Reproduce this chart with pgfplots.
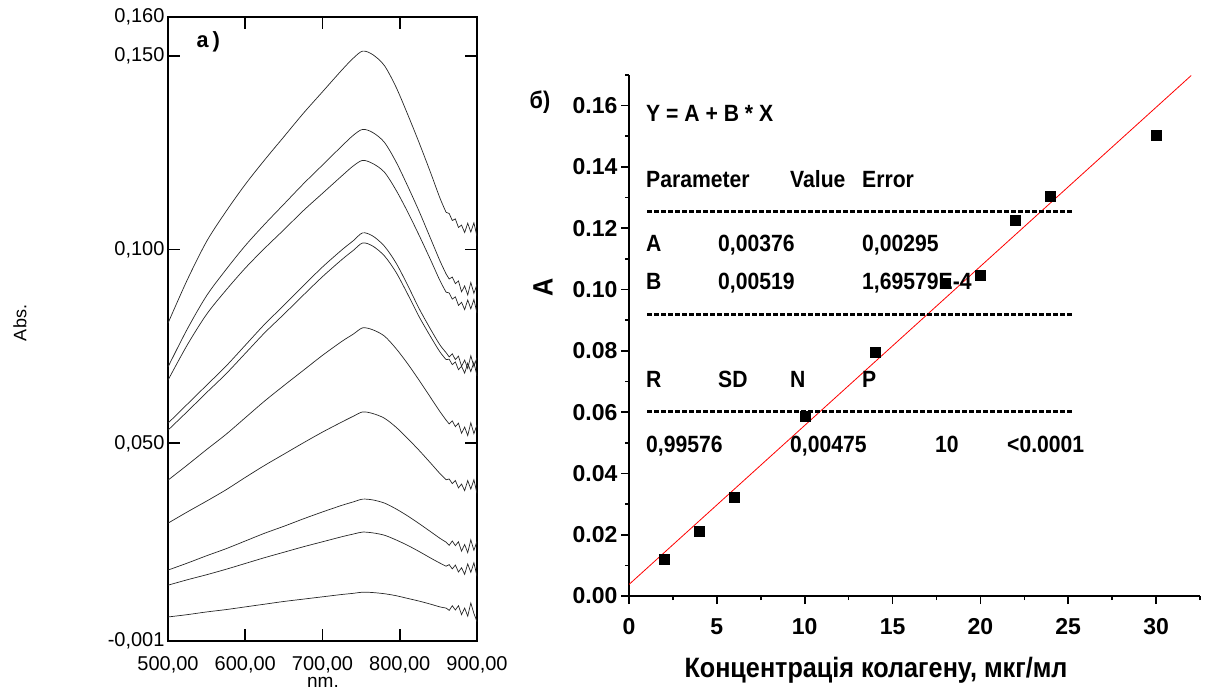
\documentclass[border=0pt]{standalone}
\usepackage{pgfplots}
\pgfplotsset{compat=1.18}
\usepackage{pgfplotstable}
\usepackage{fontspec}
\setmainfont{Liberation Sans}
\newfontfamily\nb{Liberation Sans}[FakeStretch=0.9]
\newfontfamily\mono{Liberation Mono}

\pgfplotstableread{
nm  c1     c2     c3     c4     c5     c6     c7     c8     c9     c10
500 0.0810 0.0697 0.0663 0.0552 0.0534 0.0405 0.0294 0.0173 0.0134 0.0052
525 0.0922 0.0795 0.0754 0.0601 0.0582 0.0444 0.0323 0.0191 0.0148 0.0058
550 0.1021 0.0881 0.0833 0.0650 0.0631 0.0484 0.0351 0.0210 0.0161 0.0065
575 0.1098 0.0948 0.0895 0.0699 0.0679 0.0523 0.0380 0.0228 0.0175 0.0071
600 0.1168 0.1010 0.0952 0.0753 0.0732 0.0566 0.0412 0.0248 0.0190 0.0078
625 0.1231 0.1065 0.1003 0.0807 0.0785 0.0609 0.0443 0.0268 0.0205 0.0085
650 0.1291 0.1117 0.1051 0.0856 0.0833 0.0649 0.0472 0.0286 0.0219 0.0092
675 0.1351 0.1169 0.1100 0.0906 0.0882 0.0688 0.0501 0.0305 0.0233 0.0098
700 0.1407 0.1218 0.1145 0.0955 0.0930 0.0727 0.0529 0.0323 0.0246 0.0104
725 0.1463 0.1267 0.1190 0.0999 0.0974 0.0763 0.0555 0.0340 0.0259 0.0110
740 0.1494 0.1295 0.1216 0.1023 0.0998 0.0782 0.0570 0.0349 0.0266 0.0113
752 0.1512 0.1310 0.1230 0.1043 0.1017 0.0798 0.0581 0.0356 0.0271 0.0116
765 0.1503 0.1302 0.1222 0.1035 0.1009 0.0793 0.0577 0.0354 0.0269 0.0115
780 0.1475 0.1277 0.1200 0.1009 0.0984 0.0777 0.0565 0.0346 0.0263 0.0112
795 0.1420 0.1227 0.1154 0.0966 0.0942 0.0745 0.0542 0.0331 0.0251 0.0107
810 0.1350 0.1165 0.1098 0.0909 0.0886 0.0706 0.0513 0.0313 0.0237 0.0100
825 0.1276 0.1099 0.1037 0.0848 0.0827 0.0663 0.0482 0.0293 0.0221 0.0093
840 0.1198 0.1028 0.0973 0.0794 0.0775 0.0618 0.0449 0.0272 0.0204 0.0085
852 0.1133 0.0971 0.0920 0.0754 0.0736 0.0582 0.0422 0.0255 0.0191 0.0078
860 0.1096 0.0937 0.0890 0.0734 0.0716 0.0560 0.0406 0.0245 0.0183 0.0075
864 0.1093 0.0924 0.0888 0.0723 0.0717 0.0550 0.0408 0.0237 0.0187 0.0069
868 0.1075 0.0929 0.0872 0.0731 0.0703 0.0558 0.0396 0.0248 0.0176 0.0081
872 0.1079 0.0912 0.0878 0.0716 0.0710 0.0543 0.0404 0.0236 0.0186 0.0070
876 0.1057 0.0919 0.0856 0.0725 0.0690 0.0552 0.0385 0.0246 0.0168 0.0081
880 0.1063 0.0891 0.0864 0.0699 0.0699 0.0526 0.0395 0.0222 0.0179 0.0058
884 0.1044 0.0906 0.0845 0.0715 0.0681 0.0542 0.0378 0.0239 0.0162 0.0075
888 0.1068 0.0883 0.0870 0.0693 0.0707 0.0520 0.0404 0.0218 0.0189 0.0054
892 0.1045 0.0915 0.0847 0.0726 0.0685 0.0553 0.0382 0.0251 0.0167 0.0088
896 0.1069 0.0887 0.0871 0.0698 0.0709 0.0525 0.0406 0.0224 0.0192 0.0061
900 0.1034 0.0910 0.0836 0.0721 0.0674 0.0548 0.0371 0.0247 0.0157 0.0040
}\spectra

\pgfplotstableread{
conc A
2  0.0120
4  0.0210
6  0.0324
10 0.0588
14 0.0797
18 0.1022
20 0.1047
22 0.1226
24 0.1305
30 0.1505
}\calib

\newcommand{\T}{\nb\bfseries\fontsize{23.5}{24}\selectfont}
\pgfplotsset{
  spec/.style={black!85, line width=0.7pt},
}
\newcommand{\spec}[1]{%
  \addplot[spec, smooth, restrict x to domain=500:860] table[x=nm,y=#1]{\spectra};
  \addplot[spec, restrict x to domain=860:900] table[x=nm,y=#1]{\spectra};
}

\begin{document}
\begin{tikzpicture}
\path[use as bounding box] (0pt,0pt) rectangle (1205pt,691pt);

% ---------- panel a ----------
\begin{axis}[
  at={(168pt,50pt)}, anchor=south west, scale only axis,
  width=309pt, height=624pt,
  xmin=500, xmax=900, ymin=-0.001, ymax=0.160,
  xtick={500,600,700,800,900},
  xticklabels={{500,00},{600,00},{700,00},{800,00},{900,00}},
  ytick={-0.001,0.05,0.1,0.15,0.16},
  yticklabels={{-0,001},{0,050},{0,100},{0,150},{0,160}},
  axis line style={line width=1.8pt, black},
  tick align=inside, major tick length=12pt,
  tick style={black, line width=1.8pt},
  ticklabel style={font=\fontsize{20}{20}\selectfont},
  xticklabel style={yshift=-12pt},
  scaled ticks=false,
  clip=false,
]
\spec{c1}
\spec{c2}
\spec{c3}
\spec{c4}
\spec{c5}
\spec{c6}
\spec{c7}
\spec{c8}
\spec{c9}
\spec{c10}
\draw[line width=1.8pt, black] (axis cs:600,-0.001) -- ++(0pt,12pt);
\draw[line width=1.8pt, black] (axis cs:700,-0.001) -- ++(0pt,12pt);
\draw[line width=1.8pt, black] (axis cs:800,-0.001) -- ++(0pt,12pt);
\draw[line width=1.8pt, black] (axis cs:600,0.16) -- ++(0pt,-12pt);
\draw[line width=1.8pt, black] (axis cs:700,0.16) -- ++(0pt,-12pt);
\draw[line width=1.8pt, black] (axis cs:800,0.16) -- ++(0pt,-12pt);
\draw[line width=1.8pt, black] (axis cs:500,0.05) -- ++(12pt,0pt);
\draw[line width=1.8pt, black] (axis cs:500,0.10) -- ++(12pt,0pt);
\draw[line width=1.8pt, black] (axis cs:500,0.15) -- ++(12pt,0pt);
\draw[line width=1.8pt, black] (axis cs:900,0.05) -- ++(-12pt,0pt);
\draw[line width=1.8pt, black] (axis cs:900,0.10) -- ++(-12pt,0pt);
\draw[line width=1.8pt, black] (axis cs:900,0.15) -- ++(-12pt,0pt);
\end{axis}

\node[anchor=west, inner sep=0, font=\mono\bfseries\fontsize{22}{22}\selectfont] at (196pt,649pt) {a)};
\node[rotate=90, font=\fontsize{18}{18}\selectfont] at (20pt,368pt) {Abs.};
\node[anchor=north, inner sep=0, font=\fontsize{19}{19}\selectfont] at (323pt,14pt) {nm.};

% ---------- panel b ----------
\begin{axis}[
  at={(629pt,95pt)}, anchor=south west, scale only axis,
  width=571pt, height=521pt,
  xmin=0, xmax=32.5, ymin=0, ymax=0.17,
  axis lines*=left, axis line style={line width=1.6pt, -},
  tick align=outside, tick pos=left,
  xtick={0,5,10,15,20,25,30},
  xticklabels={0,5,10,15,20,25,30},
  ytick={0,0.02,0.04,0.06,0.08,0.10,0.12,0.14,0.16},
  yticklabels={0.00,0.02,0.04,0.06,0.08,0.10,0.12,0.14,0.16},
  minor xtick={2.5,7.5,12.5,17.5,22.5,27.5,32.5},
  minor ytick={0.01,0.03,0.05,0.07,0.09,0.11,0.13,0.15,0.17},
  major tick length=8pt, minor tick length=4pt,
  every tick/.style={black, line width=1.6pt},
  ticklabel style={font=\bfseries\fontsize{23}{23}\selectfont},
  xticklabel style={yshift=-11pt},
  scaled ticks=false,
]
\addplot[red, line width=0.8pt] coordinates {(0,0.00376) (32,0.16984)};
\addplot[only marks, mark=square*, mark size=5pt, black] table[x=conc,y=A]{\calib};
\end{axis}

\node[font=\nb\bfseries\fontsize{24}{24}\selectfont] at (540pt,589pt) {б)};
\node[rotate=90, font=\nb\bfseries\fontsize{28}{28}\selectfont] at (543pt,404pt) {A};
\node[anchor=base, inner sep=0, font=\nb\bfseries\fontsize{28}{28}\selectfont] at (876pt,13pt) {Концентрація колагену, мкг/мл};

\begin{scope}[every node/.style={anchor=base west, inner sep=0, font=\T}]
\node at (646pt,569.5pt) {Y = A + B * X};
\node at (646pt,503.5pt) {Parameter};
\node at (790pt,503.5pt) {Value};
\node at (862pt,503.5pt) {Error};
\node at (646pt,439.5pt) {A};
\node at (718pt,439.5pt) {0,00376};
\node at (862pt,439.5pt) {0,00295};
\node at (646pt,401.5pt) {B};
\node at (718pt,401.5pt) {0,00519};
\node at (862pt,401.5pt) {1,69579E-4};
\node at (646pt,303.5pt) {R};
\node at (718pt,303.5pt) {SD};
\node at (790pt,303.5pt) {N};
\node at (862pt,303.5pt) {P};
\node at (646pt,238.5pt) {0,99576};
\node at (790pt,238.5pt) {0,00475};
\node at (935pt,238.5pt) {10};
\node at (1007pt,238.5pt) {<0.0001};
\end{scope}
\begin{scope}[line width=3pt, dash pattern=on 5pt off 2pt]
\draw (647pt,479pt) -- (1072pt,479pt);
\draw (647pt,376pt) -- (1072pt,376pt);
\draw (647pt,279pt) -- (1072pt,279pt);
\end{scope}
\end{tikzpicture}
\end{document}
